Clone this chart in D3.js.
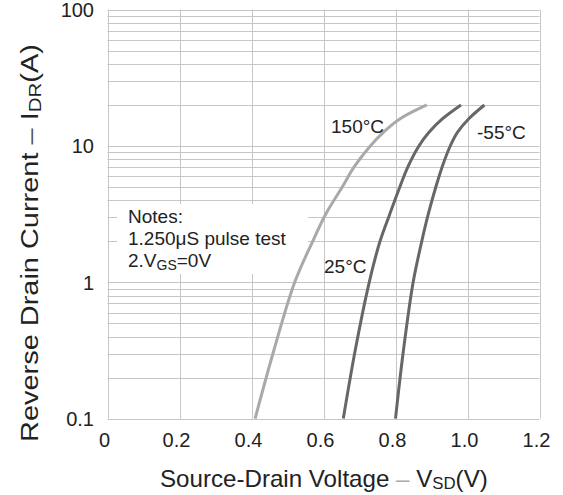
<!DOCTYPE html>
<html><head><meta charset="utf-8">
<script src="https://cdn.jsdelivr.net/npm/d3@7"></script>
<style>body{margin:0;background:#fff}svg{display:block}text{font-family:"Liberation Sans",Arial,sans-serif}</style>
</head><body><svg id="c" width="563" height="495"></svg>
<script>
const xTicks = [0, 0.2, 0.4, 0.6, 0.8, 1.0, 1.2];
const xTickLabels = ["0", "0.2", "0.4", "0.6", "0.8", "1.0", "1.2"];
const yTicks = [0.1, 1, 10, 100];
const yTickLabels = ["0.1", "1", "10", "100"];
const seriesNames = ["150°C", "25°C", "-55°C"];
const current = [0.1, 0.316, 1, 2, 3.16, 5, 7.08, 10, 12.6, 15.8, 20];
const v150 = [0.41, 0.462, 0.52, 0.570, 0.606, 0.652, 0.686, 0.73, 0.766, 0.812, 0.887];
const v25  = [0.655, 0.688, 0.727, 0.757, 0.784, 0.812, 0.835, 0.865, 0.893, 0.93, 0.982];
const vm55 = [0.80, 0.822, 0.849, 0.873, 0.891, 0.912, 0.93, 0.952, 0.972, 1.003, 1.047];
const noteLines = ["Notes:", "1.250μS pulse test"];

const svg = d3.select("#c");
const x = d3.scaleLinear().domain([0, 1.2]).range([107.5, 539.5]);
const y = d3.scaleLog().domain([0.1, 100]).range([418.6, 9.7]);
const grid = "#c6c6c6";

// horizontal grid
const hLines = [];
[0.1, 1, 10].forEach(d => { for (let k = 1; k < 10; k++) hLines.push(d * k); });
hLines.push(100);
svg.append("g").selectAll("line").data(hLines).join("line")
  .attr("x1", x(0)).attr("x2", x(1.2))
  .attr("y1", d => Math.round(y(d)) + 0.5).attr("y2", d => Math.round(y(d)) + 0.5)
  .attr("stroke", grid).attr("stroke-width", 1);
svg.append("g").selectAll("line").data(xTicks).join("line")
  .attr("x1", d => Math.round(x(d)) + 0.5).attr("x2", d => Math.round(x(d)) + 0.5)
  .attr("y1", y(100)).attr("y2", y(0.1))
  .attr("stroke", grid).attr("stroke-width", 1);

// notes background
svg.append("rect").attr("x", 117).attr("y", 204).attr("width", 191).attr("height", 70).attr("fill", "#fff");

// tick labels
svg.append("g").selectAll("text").data(xTicks).join("text")
  .attr("x", d => x(d) - 3).attr("y", 447).attr("text-anchor", "middle")
  .attr("font-size", 20).attr("fill", "#222").text((d, i) => xTickLabels[i]);
svg.append("g").selectAll("text").data(yTicks).join("text")
  .attr("x", 94).attr("y", d => y(d) + 7.4).attr("text-anchor", "end")
  .attr("font-size", 20).attr("fill", "#222").text((d, i) => yTickLabels[i]);

// curves
const line = d3.line().x(d => x(d[0])).y(d => y(d[1])).curve(d3.curveCatmullRom.alpha(0.5));
const series = [
  {v: v150, color: "#a9a9a9"},
  {v: v25, color: "#676767"},
  {v: vm55, color: "#676767"}
];
series.forEach(s => {
  svg.append("path").datum(d3.zip(s.v, current)).attr("d", line)
    .attr("fill", "none").attr("stroke", s.color).attr("stroke-width", 3).attr("stroke-linecap", "butt");
});

// curve labels
const labPos = [[331, 133], [324, 273], [477, 139]];
seriesNames.forEach((n, k) => {
  svg.append("text").attr("x", labPos[k][0]).attr("y", labPos[k][1]).attr("font-size", 19).attr("fill", "#222").text(n);
});

// notes
noteLines.forEach((t, k) => {
  svg.append("text").attr("x", 128).attr("y", 223 + k * 21.5).attr("font-size", 19).attr("fill", "#222").text(t);
});
const n3 = svg.append("text").attr("x", 128).attr("y", 267).attr("font-size", 19).attr("fill", "#222");
n3.append("tspan").text("2.V");
n3.append("tspan").attr("font-size", 14).attr("dy", 3).text("GS");
n3.append("tspan").attr("dy", -3).text("=0V");

// axis titles
const xg = svg.append("g");
const xt = xg.append("text").attr("x", 0).attr("y", 0).attr("font-size", 23).attr("fill", "#222");
xt.append("tspan").text("Source-Drain Voltage ");
xt.append("tspan").attr("fill", "#aaa").text(" – ");
xt.append("tspan").text(" V");
xt.append("tspan").attr("font-size", 16).attr("dy", 2).text("SD");
xt.append("tspan").attr("dy", -2).text("(V)");
const xw = xt.node().getBBox().width;
xg.attr("transform", `translate(160,487) scale(${328 / xw},1)`);

const yg = svg.append("g");
const yt = yg.append("text").attr("x", 0).attr("y", 0).attr("font-size", 24).attr("fill", "#222");
yt.append("tspan").text("Reverse Drain Current ");
yt.append("tspan").attr("fill", "#555").text(" – ");
yt.append("tspan").text(" I");
yt.append("tspan").attr("font-size", 17).attr("dy", 3).text("DR");
yt.append("tspan").attr("dy", -3).text("(A)");
const yw = yt.node().getBBox().width;
yg.attr("transform", `translate(38,442) rotate(-90) scale(${398 / yw},1)`);
</script></body></html>
